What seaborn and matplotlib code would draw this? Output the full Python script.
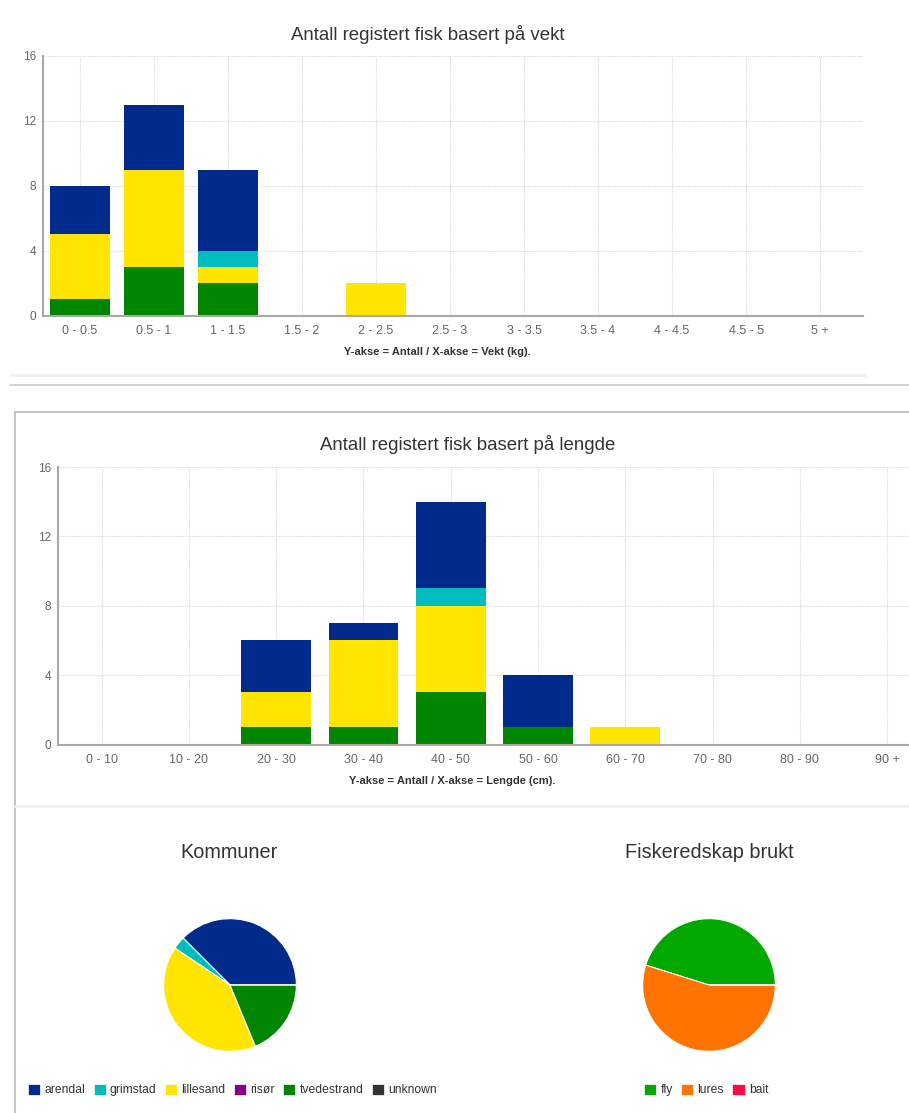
import numpy as np
import matplotlib
matplotlib.use("Agg")
import matplotlib.pyplot as plt
import matplotlib.patches as mpatches
from matplotlib.lines import Line2D
import seaborn as sns

# ---- data ---------------------------------------------------------------
weight_bins = ["0 - 0.5", "0.5 - 1", "1 - 1.5", "1.5 - 2", "2 - 2.5", "2.5 - 3",
               "3 - 3.5", "3.5 - 4", "4 - 4.5", "4.5 - 5", "5 +"]
weight_tvedestrand = [1, 3, 2, 0, 0, 0, 0, 0, 0, 0, 0]
weight_lillesand = [4, 6, 1, 0, 2, 0, 0, 0, 0, 0, 0]
weight_grimstad = [0, 0, 1, 0, 0, 0, 0, 0, 0, 0, 0]
weight_arendal = [3, 4, 5, 0, 0, 0, 0, 0, 0, 0, 0]

length_bins = ["0 - 10", "10 - 20", "20 - 30", "30 - 40", "40 - 50", "50 - 60",
               "60 - 70", "70 - 80", "80 - 90", "90 +"]
length_tvedestrand = [0, 0, 1, 1, 3, 1, 0, 0, 0, 0]
length_lillesand = [0, 0, 2, 5, 5, 0, 1, 0, 0, 0]
length_grimstad = [0, 0, 0, 0, 1, 0, 0, 0, 0, 0]
length_arendal = [0, 0, 3, 1, 5, 3, 0, 0, 0, 0]

kommune_names = ["arendal", "grimstad", "lillesand", "risør", "tvedestrand", "unknown"]
kommune_counts = [12, 1, 13, 0, 6, 0]

gear_names = ["fly", "lures", "bait"]
gear_counts = [14, 17, 0]

kommune_colors = {"arendal": "#002a8c", "grimstad": "#00bcbf", "lillesand": "#ffe500",
                  "risør": "#880088", "tvedestrand": "#008500", "unknown": "#333333"}
gear_colors = {"fly": "#00a800", "lures": "#ff7300", "bait": "#ff0a47"}

# ---- style --------------------------------------------------------------
sns.set_style("white")
FONT = ["Liberation Sans", "DejaVu Sans"]
plt.rcParams["font.family"] = FONT

W, H = 909, 1113
fig = plt.figure(figsize=(W / 100, H / 100), dpi=100)
fig.patch.set_facecolor("white")


def axes_px(l, t, r, b):
    return fig.add_axes([l / W, 1 - b / H, (r - l) / W, (b - t) / H])


def fig_text(x, y, s, **kw):
    fig.text(x / W, 1 - y / H, s, ha="center", va="center", **kw)


def fig_line(x0, y0, x1, y1, color, lw):
    fig.add_artist(Line2D([x0 / W, x1 / W], [1 - y0 / H, 1 - y1 / H],
                          transform=fig.transFigure, color=color, lw=lw))


def stacked_bars(ax, bins, layers, xmax):
    # layers listed bottom to top; drawn as overlapping cumulative bars
    cum = np.zeros(len(bins))
    tops = []
    for vals, color in layers:
        cum = cum + np.asarray(vals, dtype=float)
        tops.append((cum.copy(), color))
    for heights, color in reversed(tops):
        sns.barplot(x=bins, y=heights, color=color, width=0.8, errorbar=None,
                    saturation=1, order=bins, ax=ax, linewidth=0)
    ax.set_xlim(-0.5, xmax)
    ax.set_ylim(0, 16)
    ax.set_yticks([0, 4, 8, 12, 16])
    ax.set_xlabel("")
    ax.set_ylabel("")
    ax.set_axisbelow(True)
    ax.grid(True, color="#d8d8d8", linestyle=(0, (1, 1)), linewidth=0.8)
    for side in ("top", "right"):
        ax.spines[side].set_visible(False)
    for side in ("left", "bottom"):
        ax.spines[side].set_color("#a8a8a8")
        ax.spines[side].set_linewidth(1.5)
    ax.tick_params(axis="y", length=4, width=1, color="#a8a8a8", labelsize=8.5,
                   labelcolor="#666666", pad=1)
    ax.tick_params(axis="x", direction="inout", length=9, width=1, color="#a8a8a8",
                   labelsize=9, labelcolor="#666666", pad=2)


# ---- panel frames -------------------------------------------------------
fig_line(10, 375, 865, 375, "#f0f0f0", 2)
fig_line(10, 385, 909, 385, "#cccccc", 1.2)
fig_line(15, 412, 909, 412, "#bbbbbb", 1.2)
fig_line(15, 412, 15, 1113, "#bbbbbb", 1.2)
fig_line(15, 806, 909, 806, "#f0f0f0", 2)

# ---- weight chart -------------------------------------------------------
ax1 = axes_px(43, 56, 863, 315.5)
stacked_bars(ax1, weight_bins,
             [(weight_tvedestrand, kommune_colors["tvedestrand"]),
              (weight_lillesand, kommune_colors["lillesand"]),
              (weight_grimstad, kommune_colors["grimstad"]),
              (weight_arendal, kommune_colors["arendal"])],
             10.58)
fig_text(428, 35, "Antall registert fisk basert på vekt", fontsize=13.4, color="#333333")
fig_text(437, 352, "Y-akse = Antall / X-akse = Vekt (kg).", fontsize=8,
         fontweight="bold", color="#333333")

# ---- length chart -------------------------------------------------------
ax2 = axes_px(58, 467, 909, 744.5)
stacked_bars(ax2, length_bins,
             [(length_tvedestrand, kommune_colors["tvedestrand"]),
              (length_lillesand, kommune_colors["lillesand"]),
              (length_grimstad, kommune_colors["grimstad"]),
              (length_arendal, kommune_colors["arendal"])],
             9.25)
fig_text(468, 444, "Antall registert fisk basert på lengde", fontsize=13.4, color="#333333")
fig_text(452, 781, "Y-akse = Antall / X-akse = Lengde (cm).", fontsize=8,
         fontweight="bold", color="#333333")


# ---- pies ---------------------------------------------------------------
def pie_px(cx, cy, r, values, colors):
    ax = axes_px(cx - r, cy - r, cx + r, cy + r)
    ax.pie(values, colors=colors, startangle=0, counterclock=True, radius=1,
           wedgeprops=dict(edgecolor="white", linewidth=0.8))
    ax.set_xlim(-1.01, 1.01)
    ax.set_ylim(-1.01, 1.01)
    ax.set_aspect("equal")
    ax.axis("off")
    return ax


pie_px(230, 985, 67, kommune_counts, [kommune_colors[k] for k in kommune_names])
pie_px(709, 985, 67, gear_counts, [gear_colors[g] for g in gear_names])
fig_text(229, 853, "Kommuner", fontsize=14.3, color="#333333")
fig_text(709, 853, "Fiskeredskap brukt", fontsize=14.3, color="#333333")


def legend_px(x, y, names, cmap):
    handles = [mpatches.Patch(facecolor=cmap[n], edgecolor="white", linewidth=0.5)
               for n in names]
    fig.legend(handles, names, loc="center left", bbox_to_anchor=(x / W, 1 - y / H),
               ncol=len(names), frameon=False, fontsize=8.7, handlelength=1.0,
               handleheight=1.0, handletextpad=0.35, columnspacing=0.7,
               borderaxespad=0, borderpad=0, labelcolor="#333333")


legend_px(28, 1090, kommune_names, kommune_colors)
legend_px(644, 1090, gear_names, gear_colors)

fig.savefig("out.png", dpi=100, facecolor="white")
